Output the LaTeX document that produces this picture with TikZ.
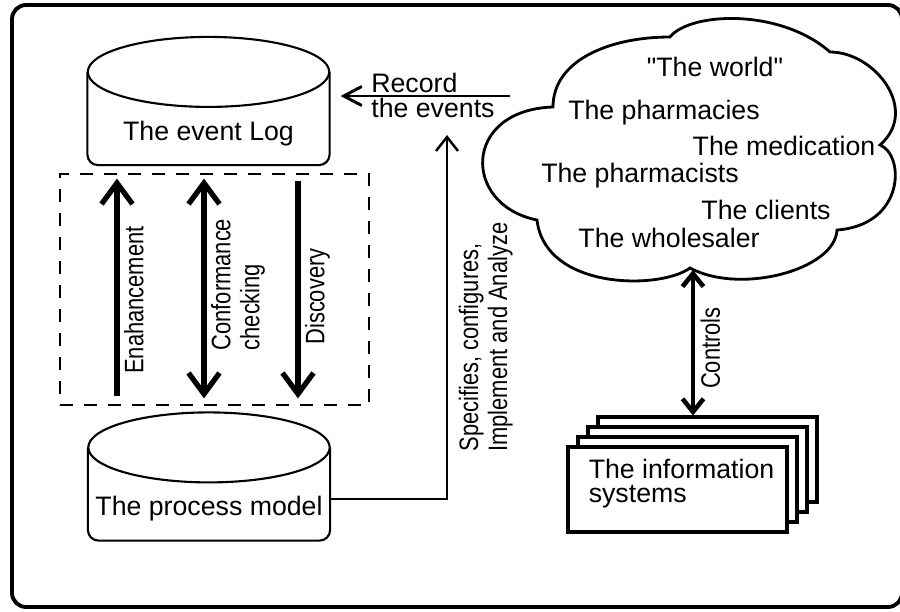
\documentclass[tikz,border=0pt]{standalone}
\usepackage{fontspec}
\setmainfont{Liberation Sans}[Ligatures=TeXOff]
\newfontfamily\narrowfont[FakeStretch=0.82]{Liberation Sans}
\usetikzlibrary{arrows.meta,positioning}

\tikzset{
  bigtip/.tip={Straight Barb[length=0.42cm,width=0.62cm]},
  rectip/.tip={Straight Barb[length=0.36cm,width=0.38cm]},
  spectip/.tip={Straight Barb[length=0.28cm,width=0.44cm]},
  ctltip/.tip={Straight Barb[length=0.26cm,width=0.42cm]},
  store/.style={minimum width=4.83cm, minimum height=2.55cm, inner sep=0},
  drumline/.style={line width=1.2pt},
  bigarrow/.style={line width=3pt},
  lbl/.style={font=\narrowfont\fontsize{15.2}{16.5}\selectfont, inner sep=2.5pt, rotate=90},
  txt/.style={font=\fontsize{15.2}{14}\selectfont, inner sep=0},
  sysbox/.style={draw, fill=white, line width=1.8pt, minimum width=4.38cm, minimum height=1.7cm}
}

\begin{document}
\begin{tikzpicture}[x=0.02cm,y=-0.02cm]
\useasboundingbox (0,0) rectangle (900,612);
\draw [line width=2.2pt, rounded corners=8pt] (12,5) rectangle (902,607);

% event log and process model
\node [store] (log) at (208.5,101) {};
\draw [drumline, rounded corners=6pt] ([yshift=-0.7cm]log.north west) -- (log.south west) -- (log.south east) -- ([yshift=-0.7cm]log.north east);
\draw [drumline] ([yshift=-0.7cm]log.north) ellipse (2.415cm and 0.7cm);
\node [txt] (logtext) at ([yshift=0.64cm]log.south) {The event Log};

\node [store] (model) at (209,476.5) {};
\draw [drumline, rounded corners=6pt] ([yshift=-0.7cm]model.north west) -- (model.south west) -- (model.south east) -- ([yshift=-0.7cm]model.north east);
\draw [drumline] ([yshift=-0.7cm]model.north) ellipse (2.415cm and 0.7cm);
\node [txt] (modeltext) at ([yshift=0.64cm]model.south) {The process model};

% mining box
\node [draw, line width=1.6pt, dash pattern=on 0.26cm off 0.22cm, minimum width=6.18cm, minimum height=4.62cm] (mining) at (214.5,289.5) {};
\coordinate (enh) at (117,0);
\coordinate (conf) at (204,0);
\coordinate (disc) at (298,0);
\draw [bigarrow, -bigtip, shorten <=0.2cm, shorten >=0.12cm] (enh |- mining.south) -- (enh |- mining.north) node [lbl, pos=0.455, anchor=north] (enhlbl) {Enahancement};
\draw [bigarrow, bigtip-bigtip, shorten <=0.16cm, shorten >=0.12cm] (conf |- mining.south) -- (conf |- mining.north) node [lbl, pos=0.21, anchor=north west, align=left] (conflbl) {Conformance\\checking};
\draw [bigarrow, bigtip-, shorten <=0.16cm, shorten >=0.16cm] (disc |- mining.south) -- (disc |- mining.north) node [lbl, pos=0.47, anchor=north] (disclbl) {Discovery};

% record the events
\coordinate (recstart) at (510,96);
\draw [line width=1.7pt, -rectip, shorten >=0.22cm] (recstart) -- (recstart -| log.east);
\node [txt, anchor=west, align=left] (rec) at (371,95.5) {Record\\the events};

% specifies
\coordinate (spectop) at (447,135);
\draw [line width=1.4pt, -spectip] ([yshift=-0.45cm]model.east) -| (spectop) node [lbl, pos=0.549, anchor=north west, align=left, inner sep=6pt] (speclbl) {Specifies, configures,\\Implement and Analyze};

% the world
\draw [line width=1.6pt] (553,107) .. controls (553,60) and (610,37) .. (670,37)
  .. controls (690,12) and (780,8) .. (830,52)
  .. controls (875,52) and (920,110) .. (880,145)
  .. controls (905,155) and (905,225) .. (837,230)
  .. controls (835,270) and (740,295) .. (690,268)
  .. controls (660,290) and (545,290) .. (537,220)
  .. controls (462,205) and (462,110) .. (553,107) -- cycle;
\node [txt] (world) at (715,67) {"The world"};
\node [txt] (pharmacies) at (664,113) {The pharmacies};
\node [txt] (medication) at (784,146) {The medication};
\node [txt] (pharmacists) at (640,176) {The pharmacists};
\node [txt] (clients) at (766,210) {The clients};
\node [txt] (wholesaler) at (669,238) {The wholesaler};

% information systems
\foreach \i in {3,2,1}
  \node [sysbox] (sys\i) at ({677.5+10*\i},{489.5-10*\i}) {};
\node [sysbox] (sys0) at (677.5,489.5) {};
\node [txt, anchor=west, align=left, font=\fontsize{15.2}{14}\selectfont] (systext) at ([xshift=0.44cm, yshift=0.12cm]sys0.west) {The information\\systems};
\coordinate (cloudbot) at (693,270);
\draw [line width=2.6pt, ctltip-ctltip] (cloudbot |- sys3.north) -- (cloudbot) node [lbl, pos=0.13, anchor=north west, inner sep=3pt] (ctllbl) {Controls};
\end{tikzpicture}
\end{document}
